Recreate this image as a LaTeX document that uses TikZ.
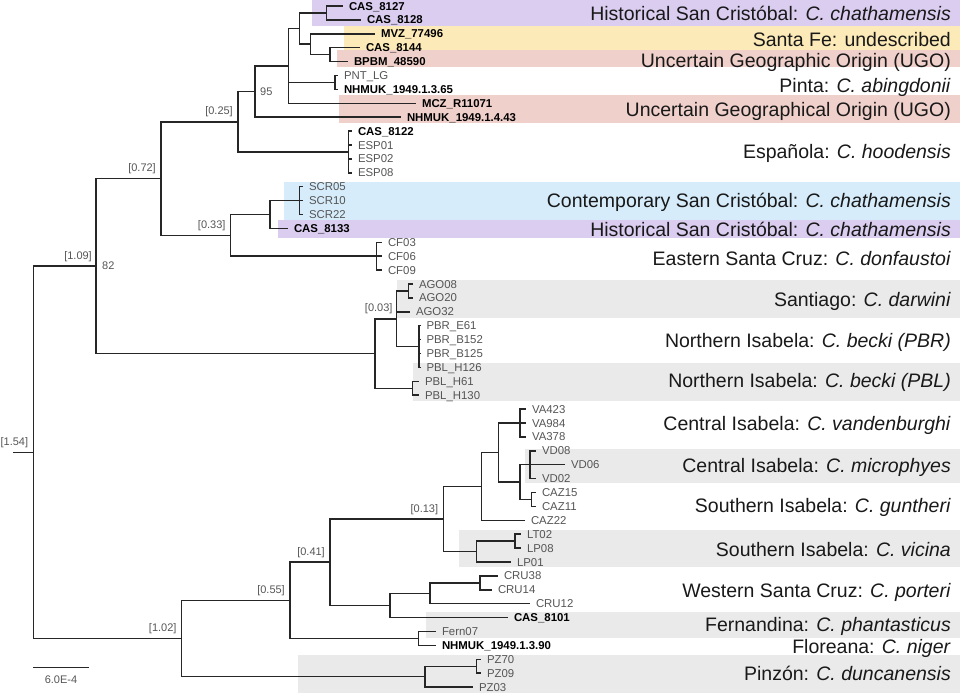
\documentclass[tikz,border=0pt]{standalone}
\usepackage{fontspec}
\setmainfont{Liberation Sans}
\usetikzlibrary{positioning}
\definecolor{hsc}{RGB}{218,205,240}
\definecolor{sfe}{RGB}{252,234,184}
\definecolor{ugo}{RGB}{240,208,202}
\definecolor{csc}{RGB}{214,236,250}
\definecolor{isl}{RGB}{234,234,234}
\definecolor{tipgray}{RGB}{85,85,85}

\begin{document}
\begin{tikzpicture}[x=1pt,y=-1pt,
  br/.style={line width=1.5pt,draw=black!85},
  tipn/.style={anchor=west,inner xsep=6pt,inner ysep=0pt,outer sep=0pt,text height=8.4pt,text depth=0.3pt,text=tipgray,font=\fontsize{11.4}{12}\selectfont},
  tipb/.style={tipn,text=black,font=\fontsize{11.4}{12}\selectfont\bfseries},
  sup/.style={anchor=base east,inner sep=0pt,text=tipgray,font=\fontsize{11}{12}\selectfont},
  grp/.style={anchor=east,inner sep=0pt,text height=14pt,text depth=0pt,text=black!90,font=\fontsize{19.5}{21}\selectfont}]

\useasboundingbox (0,0) rectangle (960,693);

% coloured bands
\fill[hsc] (312,0) rectangle (960,26);
\fill[sfe] (344,26) rectangle (960,50);
\fill[ugo] (337,50) rectangle (960,67);
\fill[ugo] (339,95) rectangle (960,123);
\fill[csc] (284,181.7) rectangle (960,220);
\fill[hsc] (278,220) rectangle (960,237.5);
\fill[isl] (397,280) rectangle (960,318);
\fill[isl] (413,363) rectangle (960,401);
\fill[isl] (525,449.3) rectangle (960,482.7);
\fill[isl] (459.3,530) rectangle (960,566.7);
\fill[isl] (425.7,611.7) rectangle (960,638.3);
\fill[isl] (298,655) rectangle (960,693);

% internal nodes
\coordinate (stem) at (13.3,452.3);
\coordinate (root) at (33.3,452.3);
\coordinate (nA) at (326.7,12.95);
\coordinate (nB) at (330,54.65);
\coordinate (nC) at (310.7,44.2);
\coordinate (nD) at (299.3,28.6);
\coordinate (nE) at (335,82.45);
\coordinate (nF) at (288.3,65.95);
\coordinate (nG) at (255,91.6);
\coordinate (nEsp) at (348.3,151.95);
\coordinate (nH) at (238,121.8);
\coordinate (nScr) at (299.3,200.6);
\coordinate (nI) at (270,214.5);
\coordinate (nCf) at (376.7,256.2);
\coordinate (nJ) at (230.7,235.35);
\coordinate (nK) at (161,178.6);
\coordinate (nAgo) at (408.3,290.95);
\coordinate (nPbr) at (419,346.55);
\coordinate (nL) at (396.7,318.75);
\coordinate (nPbl) at (412.7,388.25);
\coordinate (nM) at (375,353.5);
\coordinate (nN) at (96,266.05);
\coordinate (nVa) at (520,423);
\coordinate (nVd) at (530,464.7);
\coordinate (nCaz) at (531.7,499.45);
\coordinate (nQ) at (520,482.1);
\coordinate (nR) at (498.3,452.55);
\coordinate (nS) at (481.7,486.4);
\coordinate (nLt) at (515,541.15);
\coordinate (nLp) at (476.7,551.6);
\coordinate (nT) at (443.3,519);
\coordinate (nCru1) at (480,582.85);
\coordinate (nCru2) at (430,593.3);
\coordinate (nCru3) at (390,605.45);
\coordinate (nU) at (330,562.2);
\coordinate (nFern) at (418.3,638.45);
\coordinate (nV) at (290,600.3);
\coordinate (nPz1) at (476.7,666.25);
\coordinate (nPz) at (425,676.7);
\coordinate (nW) at (181.7,638.5);

% tips
\node[tipb] (cas8127) at (343,6.0) {CAS\_8127};
\node[tipb] (cas8128) at (361,19.9) {CAS\_8128};
\node[tipb] (mvz) at (375,33.8) {MVZ\_77496};
\node[tipb] (cas8144) at (360,47.7) {CAS\_8144};
\node[tipb] (bpbm) at (348,61.6) {BPBM\_48590};
\node[tipn] (pnt) at (338,75.5) {PNT\_LG};
\node[tipb] (nhm65) at (338,89.4) {NHMUK\_1949.1.3.65};
\node[tipb] (mcz) at (416,103.3) {MCZ\_R11071};
\node[tipb] (nhm43) at (401,117.2) {NHMUK\_1949.1.4.43};
\node[tipb] (cas8122) at (352,131.1) {CAS\_8122};
\node[tipn] (esp01) at (352,145.0) {ESP01};
\node[tipn] (esp02) at (352,158.9) {ESP02};
\node[tipn] (esp08) at (352,172.8) {ESP08};
\node[tipn] (scr05) at (303,186.7) {SCR05};
\node[tipn] (scr10) at (303,200.6) {SCR10};
\node[tipn] (scr22) at (303,214.5) {SCR22};
\node[tipb] (cas8133) at (288,228.4) {CAS\_8133};
\node[tipn] (cf03) at (382,242.3) {CF03};
\node[tipn] (cf06) at (382,256.2) {CF06};
\node[tipn] (cf09) at (382,270.1) {CF09};
\node[tipn] (ago08) at (413,284.0) {AGO08};
\node[tipn] (ago20) at (413,297.9) {AGO20};
\node[tipn] (ago32) at (410,311.8) {AGO32};
\node[tipn] (pbre61) at (420.5,325.7) {PBR\_E61};
\node[tipn] (pbrb152) at (420.5,339.6) {PBR\_B152};
\node[tipn] (pbrb125) at (420.5,353.5) {PBR\_B125};
\node[tipn] (pblh126) at (420.5,367.4) {PBL\_H126};
\node[tipn] (pblh61) at (419,381.3) {PBL\_H61};
\node[tipn] (pblh130) at (419,395.2) {PBL\_H130};
\node[tipn] (va423) at (526,409.1) {VA423};
\node[tipn] (va984) at (526,423.0) {VA984};
\node[tipn] (va378) at (526,436.9) {VA378};
\node[tipn] (vd08) at (536,450.8) {VD08};
\node[tipn] (vd06) at (565,464.7) {VD06};
\node[tipn] (vd02) at (536,478.6) {VD02};
\node[tipn] (caz15) at (536,492.5) {CAZ15};
\node[tipn] (caz11) at (536,506.4) {CAZ11};
\node[tipn] (caz22) at (525,520.3) {CAZ22};
\node[tipn] (lt02) at (521,534.2) {LT02};
\node[tipn] (lp08) at (521,548.1) {LP08};
\node[tipn] (lp01) at (511,562.0) {LP01};
\node[tipn] (cru38) at (498,575.9) {CRU38};
\node[tipn] (cru14) at (492,589.8) {CRU14};
\node[tipn] (cru12) at (530,603.7) {CRU12};
\node[tipb] (cas8101) at (508,617.6) {CAS\_8101};
\node[tipn] (fern07) at (436,631.5) {Fern07};
\node[tipb] (nhm90) at (436,645.4) {NHMUK\_1949.1.3.90};
\node[tipn] (pz70) at (481,659.3) {PZ70};
\node[tipn] (pz09) at (481,673.2) {PZ09};
\node[tipn] (pz03) at (473,687.1) {PZ03};

% branches
\draw[br] (stem) -- (root) (root) |- (nN) (root) |- (nW);
\draw[br] (nN) |- (nK) (nN) |- (nM);
\draw[br] (nK) |- (nH) (nK) |- (nJ);
\draw[br] (nH) |- (nG) (nH) |- (nEsp);
\draw[br] (nG) |- (nF) (nG) |- (nhm43);
\draw[br] (nF) |- (nD) (nF) |- (nE) (nF) |- (mcz);
\draw[br] (nD) |- (nA) (nD) |- (nC);
\draw[br] (nA) |- (cas8127) (nA) |- (cas8128);
\draw[br] (nC) |- (mvz) (nC) |- (nB);
\draw[br] (nB) |- (cas8144) (nB) |- (bpbm);
\draw[br] (nE) |- (pnt) (nE) |- (nhm65);
\draw[br] (nEsp) |- (cas8122) (nEsp) |- (esp01) (nEsp) |- (esp02) (nEsp) |- (esp08);
\draw[br] (nJ) |- (nI) (nJ) |- (nCf);
\draw[br] (nI) |- (nScr) (nI) |- (cas8133);
\draw[br] (nScr) |- (scr05) (nScr) |- (scr10) (nScr) |- (scr22);
\draw[br] (nCf) |- (cf03) (nCf) |- (cf06) (nCf) |- (cf09);
\draw[br] (nM) |- (nL) (nM) |- (nPbl);
\draw[br] (nL) |- (nAgo) (nL) |- (ago32) (nL) |- (nPbr);
\draw[br] (nAgo) |- (ago08) (nAgo) |- (ago20);
\draw[br] (nPbr) |- (pbre61) (nPbr) |- (pbrb152) (nPbr) |- (pbrb125) (nPbr) |- (pblh126);
\draw[br] (nPbl) |- (pblh61) (nPbl) |- (pblh130);
\draw[br] (nW) |- (nV) (nW) |- (nPz);
\draw[br] (nV) |- (nU) (nV) |- (nFern);
\draw[br] (nU) |- (nT) (nU) |- (nCru3);
\draw[br] (nT) |- (nS) (nT) |- (nLp);
\draw[br] (nS) |- (nR) (nS) |- (caz22);
\draw[br] (nR) |- (nVa) (nR) |- (nQ);
\draw[br] (nQ) |- (nVd) (nQ) |- (nCaz);
\draw[br] (nVa) |- (va423) (nVa) |- (va984) (nVa) |- (va378);
\draw[br] (nVd) |- (vd08) (nVd) |- (vd06) (nVd) |- (vd02);
\draw[br] (nCaz) |- (caz15) (nCaz) |- (caz11);
\draw[br] (nLp) |- (nLt) (nLp) |- (lp01);
\draw[br] (nLt) |- (lt02) (nLt) |- (lp08);
\draw[br] (nCru3) |- (nCru2) (nCru3) |- (cas8101);
\draw[br] (nCru2) |- (nCru1) (nCru2) |- (cru12);
\draw[br] (nCru1) |- (cru38) (nCru1) |- (cru14);
\draw[br] (nFern) |- (fern07) (nFern) |- (nhm90);
\draw[br] (nPz) |- (nPz1) (nPz) |- (pz03);
\draw[br] (nPz1) |- (pz70) (nPz1) |- (pz09);

% support values
\node[sup] (s154) at ([shift={(-5pt,7pt)}]root) {[1.54]};
\node[sup] (s109) at ([shift={(-4pt,7pt)}]nN) {[1.09]};
\node[sup] (s072) at ([shift={(-5pt,7pt)}]nK) {[0.72]};
\node[sup] (s025) at ([shift={(-5pt,7pt)}]nH) {[0.25]};
\node[sup] (s033) at ([shift={(-5pt,7pt)}]nJ) {[0.33]};
\node[sup] (s003) at ([shift={(-4pt,7pt)}]nL) {[0.03]};
\node[sup] (s102) at ([shift={(-5pt,7pt)}]nW) {[1.02]};
\node[sup] (s055) at ([shift={(-5pt,7pt)}]nV) {[0.55]};
\node[sup] (s041) at ([shift={(-5pt,7pt)}]nU) {[0.41]};
\node[sup] (s013) at ([shift={(-5pt,7pt)}]nT) {[0.13]};
\node[sup,anchor=west] (b82) at ([xshift=6pt]nN) {82};
\node[sup,anchor=west] (b95) at ([xshift=5pt]nG) {95};

% scale bar
\coordinate (sb0) at (33.3,667.3);
\coordinate (sb1) at (89.3,667.3);
\draw[br] (sb0) -- (sb1);
\node[sup,anchor=center] (sblab) at (61,680) {6.0E-4};

% group labels
\node[grp] (g1) at (951,14) {Historical San Cristóbal: \textit{C. chathamensis}};
\node[grp] (g2) at (951,39.3) {Santa Fe: undescribed};
\node[grp] (g3) at (951,60) {Uncertain Geographic Origin (UGO)};
\node[grp] (g4) at (951,85) {Pinta: \textit{C. abingdonii}};
\node[grp] (g5) at (951,109.3) {Uncertain Geographical Origin (UGO)};
\node[grp] (g6) at (951,151.5) {Española: \textit{C. hoodensis}};
\node[grp] (g7) at (951,200) {Contemporary San Cristóbal: \textit{C. chathamensis}};
\node[grp] (g8) at (951,229) {Historical San Cristóbal: \textit{C. chathamensis}};
\node[grp] (g9) at (951,258) {Eastern Santa Cruz: \textit{C. donfaustoi}};
\node[grp] (g10) at (951,299) {Santiago: \textit{C. darwini}};
\node[grp] (g11) at (951,340) {Northern Isabela: \textit{C. becki (PBR)}};
\node[grp] (g12) at (951,380) {Northern Isabela: \textit{C. becki (PBL)}};
\node[grp] (g13) at (951,423) {Central Isabela: \textit{C. vandenburghi}};
\node[grp] (g14) at (951,465) {Central Isabela: \textit{C. microphyes}};
\node[grp] (g15) at (951,505) {Southern Isabela: \textit{C. guntheri}};
\node[grp] (g16) at (951,549) {Southern Isabela: \textit{C. vicina}};
\node[grp] (g17) at (951,590) {Western Santa Cruz: \textit{C. porteri}};
\node[grp] (g18) at (951,624.5) {Fernandina: \textit{C. phantasticus}};
\node[grp] (g19) at (951,646.5) {Floreana: \textit{C. niger}};
\node[grp] (g20) at (951,673.5) {Pinzón: \textit{C. duncanensis}};
\end{tikzpicture}
\end{document}
